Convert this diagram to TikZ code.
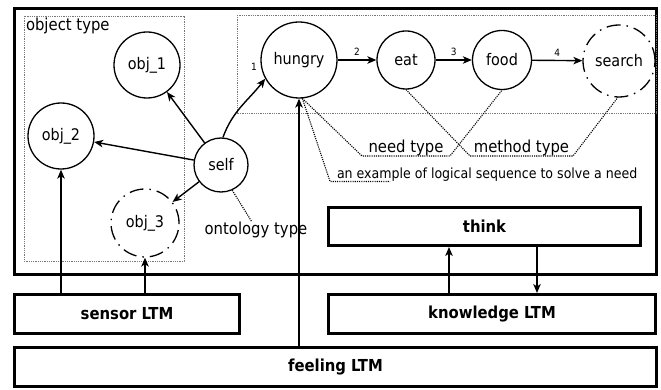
\documentclass[tikz,border=0pt]{standalone}
\usepackage{fontspec}
\setmainfont{DejaVu Sans Condensed}
\usetikzlibrary{arrows.meta,calc}
\definecolor{grpgray}{RGB}{120,120,120}
\begin{document}
\begin{tikzpicture}[x=1pt,y=-1pt,
  circ/.style={circle,draw,line width=1.3pt,fill=white,inner sep=0pt,font=\fontsize{16}{18}\selectfont},
  dashcirc/.style={circ,dash pattern=on 14pt off 6pt on 1.5pt off 6pt},
  bigbox/.style={draw,line width=3pt,fill=white,inner sep=0pt,font=\bfseries\fontsize{16.5}{19}\selectfont},
  arr/.style={line width=1.4pt,-{Stealth[length=9pt,width=7.5pt,inset=2.5pt]}},
  leader/.style={line width=1.1pt,dash pattern=on 1.1pt off 1.1pt},
  grpbox/.style={draw=grpgray,line width=0.8pt,dash pattern=on 1pt off 0.8pt},
  lbl/.style={inner sep=0pt,outer sep=0pt,font=\fontsize{16.5}{19}\selectfont},
  small/.style={inner sep=0pt,outer sep=0pt,font=\fontsize{10}{12}\selectfont},
]
\useasboundingbox (0,0) rectangle (661,390);
\fill[white] (0,0) rectangle (661,390);
% frame and group boxes
\draw[line width=3pt] (14.5,8.5) rectangle (656.5,274.5);
\draw[grpbox] (24,16) rectangle (184,261);
\draw[grpbox] (237,15) rectangle (656,113);
% circles
\node[circ,minimum size=66pt] (obj1) at (147,65) {obj\_1};
\node[circ,minimum size=66pt] (obj2) at (61,136) {obj\_2};
\node[dashcirc,minimum size=68pt] (obj3) at (145,223) {obj\_3};
\node[circ,minimum size=54pt] (self) at (221,165) {self};
\node[circ,minimum size=76pt] (hungry) at (299,60) {hungry};
\node[circ,minimum size=58pt] (eat) at (406,60) {eat};
\node[circ,minimum size=59pt] (food) at (502,60) {food};
\node[dashcirc,minimum size=72pt] (search) at (619,61) {search};
% boxes
\node[bigbox,minimum width=312pt,minimum height=38pt] (think) at (484.5,226.5) {think};
\node[bigbox,minimum width=225pt,minimum height=39pt] (sensor) at (127,314) {sensor LTM};
\node[bigbox,minimum width=327pt,minimum height=39pt] (knowledge) at (492,314) {knowledge LTM};
\node[bigbox,minimum width=642pt,minimum height=39pt] (feeling) at (335.5,367) {feeling LTM};
% labels
\node[lbl,anchor=base west] (objt) at (26,30.5) {object type};
\node[lbl] (onto) at (256,230) {ontology type};
\node[lbl,anchor=south,minimum width=88pt] (needt) at (406,156) {need type};
\node[lbl,anchor=south,minimum width=103pt] (metht) at (521.5,156) {method type};
\node[anchor=south west,inner ysep=0pt,inner xsep=7pt,outer sep=0pt,font=\fontsize{14}{16}\selectfont] (ex) at (330,181.5) {an example of logical sequence to solve a need};
\node[small] (l1) at (254,67) {1};
% arrows
\draw[arr] (self) -- (obj1);
\draw[arr] (self) -- (obj2);
\draw[arr] (self) -- (obj3);
\draw[arr] (self.86) to[out=70,in=232] (hungry.209);
\draw[arr] (hungry) -- node[small,above=4pt] (l2) {2} (eat);
\draw[arr] (eat) -- node[small,above=4pt] (l3) {3} (food);
\draw[arr] (food) -- node[small,above=4pt] (l4) {4} (search);
\draw[arr] (sensor.north -| obj2) -- (obj2.south);
\draw[arr] (sensor.north -| obj3) -- (obj3.south);
\draw[arr] (feeling.north -| hungry) -- (hungry.south);
\coordinate (kup) at ([xshift=122pt]knowledge.north west);
\coordinate (kdn) at ([xshift=210pt]knowledge.north west);
\draw[arr] (kup) -- (kup |- think.south);
\draw[arr] (kdn |- think.south) -- (kdn);
% leaders
\draw[leader] (self.294) -- ([xshift=-4pt]onto.north);
\draw[leader] (hungry.-85) -- (needt.south west) -- (needt.south east) -- (food.south);
\draw[leader] (eat.south) -- (metht.south west) -- (metht.south east) -- (search.-92);
\draw[leader] (hungry.-85) -- (ex.south west) -- ([xshift=60pt]ex.south west);
\end{tikzpicture}
\end{document}
